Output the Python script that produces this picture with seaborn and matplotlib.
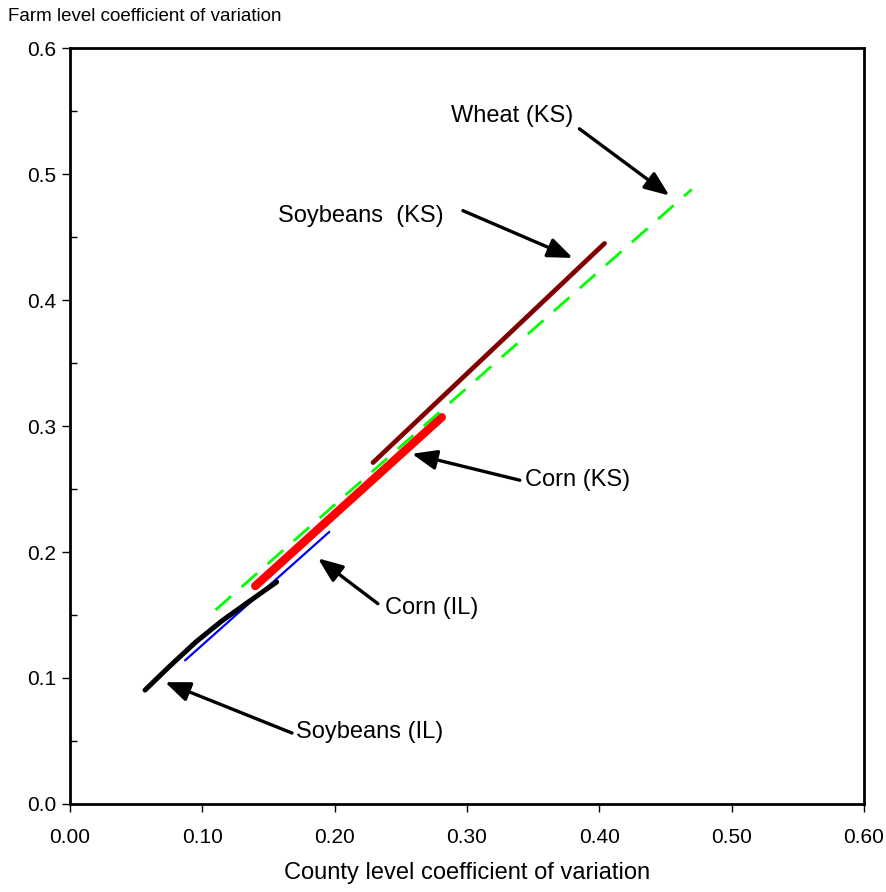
import matplotlib
matplotlib.use("Agg")
import matplotlib.pyplot as plt
import seaborn as sns
import numpy as np
from matplotlib.ticker import MultipleLocator, FormatStrFormatter

sns.set_style("white")
plt.rcParams['font.family'] = ['Liberation Sans', 'DejaVu Sans']
plt.rcParams['text.color'] = 'black'
plt.rcParams['axes.labelcolor'] = 'black'
plt.rcParams['xtick.color'] = 'black'
plt.rcParams['ytick.color'] = 'black'

# Data
wheat_ks_x = [0.110, 0.470]
wheat_ks_y = [0.154, 0.488]

soy_ks_x = [0.229, 0.404]
soy_ks_y = [0.271, 0.445]

corn_ks_x = [0.140, 0.281]
corn_ks_y = [0.173, 0.307]

corn_il_x = [0.087, 0.196]
corn_il_y = [0.114, 0.216]

soy_il_x = [0.0567, 0.075, 0.095, 0.115, 0.135, 0.1562]
soy_il_y = [0.0904, 0.109, 0.1285, 0.1455, 0.1605, 0.1762]

x_ticks = [0.0, 0.1, 0.2, 0.3, 0.4, 0.5, 0.6]
y_ticks = [0.0, 0.1, 0.2, 0.3, 0.4, 0.5, 0.6]

fig = plt.figure(figsize=(8.86, 8.92), dpi=100)
ax = fig.add_axes([0.079, 0.0987, 0.896, 0.8473])

sns.lineplot(x=wheat_ks_x, y=wheat_ks_y, ax=ax, color="#00ff00", lw=2.0,
             linestyle=(0, (7.5, 5)), sort=False, zorder=5)
sns.lineplot(x=soy_ks_x, y=soy_ks_y, ax=ax, color="#800000", lw=3.4,
             sort=False, solid_capstyle="round", zorder=4)
sns.lineplot(x=corn_ks_x, y=corn_ks_y, ax=ax, color="#ff0000", lw=6.0,
             sort=False, solid_capstyle="round", zorder=3)
sns.lineplot(x=corn_il_x, y=corn_il_y, ax=ax, color="#0000ff", lw=1.6,
             sort=False, zorder=3)
sns.lineplot(x=soy_il_x, y=soy_il_y, ax=ax, color="#000000", lw=3.6,
             sort=False, solid_capstyle="round", solid_joinstyle="round", zorder=4)

ax.set_xlim(0, 0.6)
ax.set_ylim(0, 0.6)
ax.set_xticks(x_ticks)
ax.set_yticks(y_ticks)
ax.xaxis.set_major_formatter(FormatStrFormatter('%.2f'))
ax.yaxis.set_major_formatter(FormatStrFormatter('%.1f'))
ax.yaxis.set_minor_locator(MultipleLocator(0.05))
ax.tick_params(axis='both', which='major', direction='out', length=6, width=1,
               labelsize=15, color='black', left=True, bottom=True, pad=4)
ax.tick_params(axis='y', which='minor', direction='in', length=5, width=1, left=True)
ax.tick_params(axis='x', pad=11)
for s in ax.spines.values():
    s.set_visible(True)
    s.set_color('black')
    s.set_linewidth(2.0)

ax.set_xlabel("County level coefficient of variation", fontsize=17, labelpad=11)
fig.text(0.009, 0.981, "Farm level coefficient of variation", fontsize=13.5,
         ha='left', va='center')

arrow = dict(arrowstyle="-|>,head_length=1.5,head_width=0.6", color="black", lw=2.4,
             shrinkA=0, shrinkB=0)
notes = [
    ("Wheat (KS)", (0.334, 0.546), (0.385, 0.536), (0.453, 0.483)),
    ("Soybeans  (KS)", (0.2195, 0.467), (0.297, 0.471), (0.380, 0.4335)),
    ("Corn (KS)", (0.384, 0.257), (0.340, 0.257), (0.2584, 0.278)),
    ("Corn (IL)", (0.2736, 0.1553), (0.2327, 0.159), (0.1874, 0.195)),
    ("Soybeans (IL)", (0.2267, 0.057), (0.1678, 0.0563), (0.0718, 0.0967)),
]
for label, tpos, astart, aend in notes:
    ax.text(tpos[0], tpos[1], label, fontsize=17, ha='center', va='center')
    ax.annotate("", xy=aend, xytext=astart, arrowprops=arrow)

fig.savefig("out.png", dpi=100)
